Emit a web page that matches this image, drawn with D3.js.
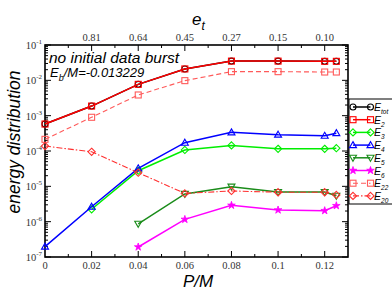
<!DOCTYPE html>
<html>
<head>
<meta charset="utf-8">
<script src="https://cdn.jsdelivr.net/npm/d3@7"></script>
<style>
  html, body { margin:0; padding:0; background:#fff; }
  svg { display:block; }
</style>
</head>
<body>
<svg id="chart" width="392" height="303"></svg>
<script>
// ---- data ----
const xPM = [0, 0.02, 0.04, 0.06, 0.08, 0.1, 0.12, 0.125];
const xTicks = [0, 0.02, 0.04, 0.06, 0.08, 0.1, 0.12];
const xTickLabels = ["0", "0.02", "0.04", "0.06", "0.08", "0.1", "0.12"];
const etTickPos = [0.02, 0.04, 0.06, 0.08, 0.1, 0.12];
const etTickLabels = ["0.81", "0.64", "0.45", "0.27", "0.15", "0.10"];
const yDecades = [-7, -6, -5, -4, -3, -2, -1];

const eTot = [5.8e-4, 1.87e-3, 7.7e-3, 2.1e-2, 3.5e-2, 3.5e-2, 3.45e-2, 3.45e-2];
const e2   = [5.8e-4, 1.87e-3, 7.7e-3, 2.1e-2, 3.5e-2, 3.5e-2, 3.45e-2, 3.45e-2];
const e3   = [null, 2.24e-6, 2.77e-5, 1.07e-4, 1.44e-4, 1.15e-4, 1.15e-4, 1.2e-4];
const e4   = [1.96e-7, 2.65e-6, 3.23e-5, 1.72e-4, 3.37e-4, 2.9e-4, 2.7e-4, 3.2e-4];
const e5   = [null, null, 8.7e-7, 6.1e-6, 9.8e-6, 6.9e-6, 6.9e-6, 5.4e-6];
const e6   = [null, null, 1.92e-7, 1.16e-6, 2.9e-6, 2.14e-6, 2.05e-6, 2.83e-6];
const e22  = [2.14e-4, 9.0e-4, 3.85e-3, 9.8e-3, 1.76e-2, 1.76e-2, 1.72e-2, 1.72e-2];
const e20  = [1.38e-4, 9.5e-5, 2.43e-5, 6.3e-6, 7.4e-6, 6.8e-6, 6.8e-6, 5.7e-6];

const series = [
  { name:"tot", vals:eTot, color:"#000000", sym:"circle",   dash:null,        fill:"none" },
  { name:"2",   vals:e2,   color:"#ff0000", sym:"square",   dash:null,        fill:"none" },
  { name:"3",   vals:e3,   color:"#00ee00", sym:"diamond",  dash:null,        fill:"none" },
  { name:"4",   vals:e4,   color:"#0000ff", sym:"triUp",    dash:null,        fill:"none" },
  { name:"5",   vals:e5,   color:"#1a8c1a", sym:"triDown",  dash:null,        fill:"none" },
  { name:"6",   vals:e6,   color:"#ff00ff", sym:"star",     dash:null,        fill:"#ff00ff" },
  { name:"22",  vals:e22,  color:"#ff5a5a", sym:"square",   dash:"5,3",       fill:"none" },
  { name:"20",  vals:e20,  color:"#ff3030", sym:"diamond",  dash:"6,2,1.5,2", fill:"none" }
];

// ---- layout ----
const P = { l:45, r:348, t:45, b:257 };
const svg = d3.select("#chart");

const x = d3.scaleLinear().domain([0, 0.13]).range([P.l, P.r]);
const y = d3.scaleLog().domain([1e-7, 1e-1]).range([P.b, P.t]);

/* ---------- symbols ---------- */
function drawSymbol(g, kind, cx, cy, color, fill){
  const r = 3.0;
  if(kind === "circle"){
    g.append("circle").attr("cx",cx).attr("cy",cy).attr("r",r)
      .attr("fill",fill).attr("stroke",color).attr("stroke-width",1.1);
  } else if(kind === "square"){
    g.append("rect").attr("x",cx-r).attr("y",cy-r).attr("width",2*r).attr("height",2*r)
      .attr("fill",fill).attr("stroke",color).attr("stroke-width",1.1);
  } else if(kind === "diamond"){
    g.append("path").attr("d",`M${cx},${cy-r-0.6}L${cx+r+0.6},${cy}L${cx},${cy+r+0.6}L${cx-r-0.6},${cy}Z`)
      .attr("fill",fill).attr("stroke",color).attr("stroke-width",1.1);
  } else if(kind === "triUp"){
    g.append("path").attr("d",`M${cx},${cy-r-0.5}L${cx+r+0.5},${cy+r-0.5}L${cx-r-0.5},${cy+r-0.5}Z`)
      .attr("fill",fill).attr("stroke",color).attr("stroke-width",1.1);
  } else if(kind === "triDown"){
    g.append("path").attr("d",`M${cx},${cy+r+0.5}L${cx+r+0.5},${cy-r+0.5}L${cx-r-0.5},${cy-r+0.5}Z`)
      .attr("fill",fill).attr("stroke",color).attr("stroke-width",1.1);
  } else if(kind === "star"){
    g.append("path").attr("d", d3.symbol(d3.symbolStar, 18)())
      .attr("transform",`translate(${cx},${cy})`)
      .attr("fill",fill).attr("stroke",color).attr("stroke-width",0.8);
  }
}

/* ---------- frame + ticks ---------- */
const tickFont = "'Liberation Serif','DejaVu Serif',serif";
const labFont = "'Liberation Sans','DejaVu Sans',Arial,sans-serif";

const ticks = svg.append("g").attr("stroke","#000").attr("stroke-width",1);
xTicks.slice(1).forEach(v => {
  ticks.append("line").attr("x1",x(v)).attr("x2",x(v)).attr("y1",P.b).attr("y2",P.b-6);
  ticks.append("line").attr("x1",x(v)).attr("x2",x(v)).attr("y1",P.t).attr("y2",P.t+6);
});
d3.range(1, 13, 2).map(i => i/100).forEach(v => {
  ticks.append("line").attr("x1",x(v)).attr("x2",x(v)).attr("y1",P.b).attr("y2",P.b-3);
  ticks.append("line").attr("x1",x(v)).attr("x2",x(v)).attr("y1",P.t).attr("y2",P.t+3);
});
yDecades.forEach(d => {
  const v = Math.pow(10, d);
  ticks.append("line").attr("x1",P.l).attr("x2",P.l+6).attr("y1",y(v)).attr("y2",y(v));
  ticks.append("line").attr("x1",P.r).attr("x2",P.r-6).attr("y1",y(v)).attr("y2",y(v));
  if(d < -1){
    for(let k=2;k<=9;k++){
      const m = k*v;
      ticks.append("line").attr("x1",P.l).attr("x2",P.l+3).attr("y1",y(m)).attr("y2",y(m));
      ticks.append("line").attr("x1",P.r).attr("x2",P.r-3).attr("y1",y(m)).attr("y2",y(m));
    }
  }
});

svg.append("rect").attr("x",P.l).attr("y",P.t).attr("width",P.r-P.l).attr("height",P.b-P.t)
  .attr("fill","none").attr("stroke","#000").attr("stroke-width",1.6);

svg.append("g").selectAll("text").data(xTicks).join("text")
  .attr("x",d=>x(d)).attr("y",P.b+12).attr("text-anchor","middle")
  .attr("font-family",tickFont).attr("font-size",10.5).attr("fill","#333")
  .text((d,i)=>xTickLabels[i]);

svg.append("g").selectAll("text").data(etTickPos).join("text")
  .attr("x",d=>x(d)).attr("y",P.t-4).attr("text-anchor","middle")
  .attr("font-family",tickFont).attr("font-size",10.5).attr("fill","#333")
  .text((d,i)=>etTickLabels[i]);

yDecades.forEach(d => {
  const t = svg.append("text").attr("x",P.l-3).attr("y",y(Math.pow(10,d))+4)
    .attr("text-anchor","end").attr("font-family",tickFont).attr("font-size",10.5).attr("fill","#333");
  t.append("tspan").text("10");
  t.append("tspan").attr("font-size",7).attr("dy",-5).text(String(d));
});

/* ---------- series ---------- */
const line = d3.line().defined(d => d[1] != null)
  .x(d => x(d[0])).y(d => y(d[1]));

series.forEach(s => {
  const pts = xPM.map((xv,i) => [xv, s.vals[i]]);
  svg.append("path").attr("d", line(pts))
    .attr("fill","none").attr("stroke",s.color)
    .attr("stroke-width", s.dash ? 1.1 : 1.5)
    .attr("stroke-dasharray", s.dash);
  const g = svg.append("g");
  pts.filter(p => p[1] != null).forEach(p => drawSymbol(g, s.sym, x(p[0]), y(p[1]), s.color, s.fill));
});

/* ---------- legend ---------- */
const lg = svg.append("g");
lg.append("rect").attr("x",349).attr("y",99).attr("width",50).attr("height",105)
  .attr("fill","#fff").attr("stroke","#000").attr("stroke-width",1);
series.forEach((s,i) => {
  const cy = 107 + i*12.7;
  lg.append("line").attr("x1",353).attr("x2",370.5).attr("y1",cy).attr("y2",cy)
    .attr("stroke",s.color).attr("stroke-width",s.dash?1.1:1.5).attr("stroke-dasharray",s.dash);
  drawSymbol(lg, s.sym, 353, cy, s.color, s.fill);
  drawSymbol(lg, s.sym, 370.5, cy, s.color, s.fill);
  const t = lg.append("text").attr("x",374).attr("y",cy+4)
    .attr("font-family",labFont).attr("font-style","italic").attr("font-size",10.5);
  t.append("tspan").text("E");
  t.append("tspan").attr("font-size",6.5).attr("dy",3).text(s.name);
});

/* ---------- labels ---------- */
svg.append("text").attr("x",49).attr("y",63)
  .attr("font-family",labFont).attr("font-style","italic").attr("font-size",15.5)
  .text("no initial data burst");
const eb = svg.append("text").attr("x",50).attr("y",77)
  .attr("font-family",labFont).attr("font-style","italic").attr("font-size",13);
eb.append("tspan").text("E");
eb.append("tspan").attr("font-size",9).attr("dy",4).text("b");
eb.append("tspan").attr("dy",-4).text("/M=-0.013229");

svg.append("text").attr("x",198).attr("y",287).attr("text-anchor","middle")
  .attr("font-family",labFont).attr("font-style","italic").attr("font-size",17)
  .text("P/M");

const et = svg.append("text").attr("x",192).attr("y",25)
  .attr("font-family",labFont).attr("font-style","italic").attr("font-size",17);
et.append("tspan").text("e");
et.append("tspan").attr("font-size",12).attr("dy",5).text("t");

svg.append("text").attr("transform","translate(20,142) rotate(-90)")
  .attr("text-anchor","middle")
  .attr("font-family",labFont).attr("font-style","italic").attr("font-size",17.5)
  .text("energy distribution");
</script>
</body>
</html>
